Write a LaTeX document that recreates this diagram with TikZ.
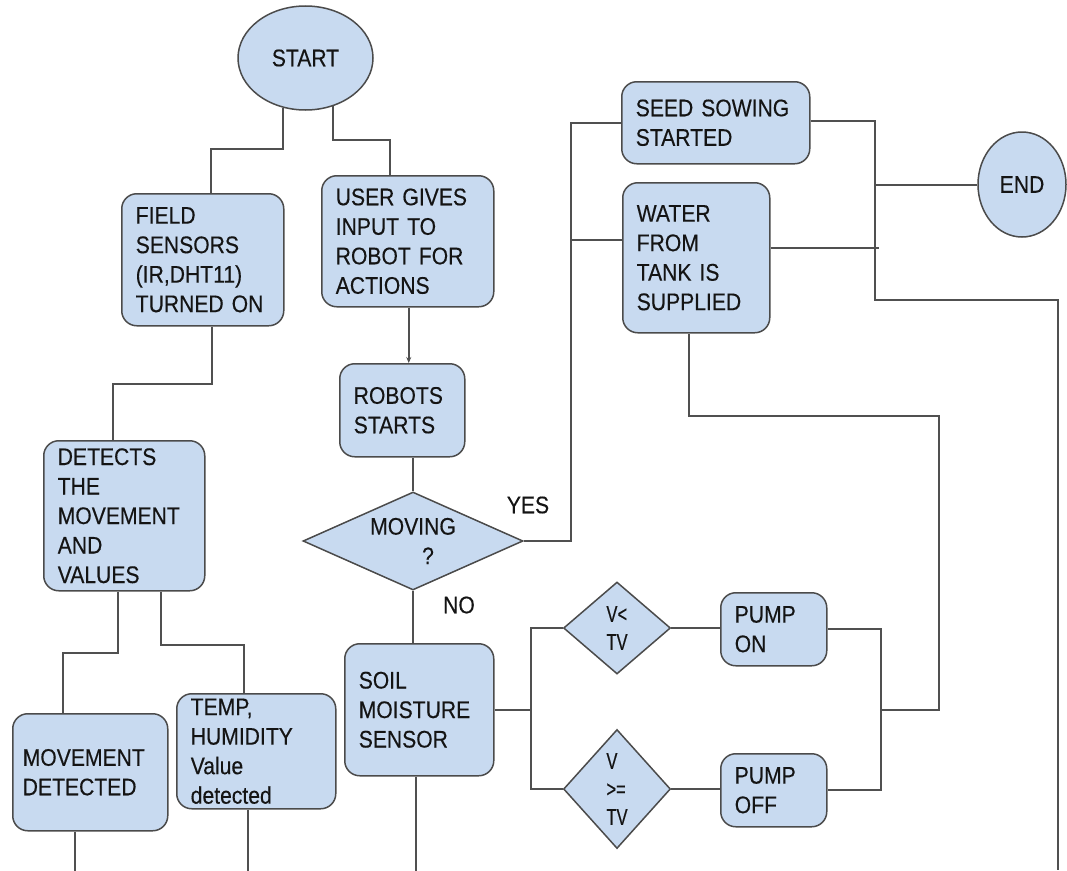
\documentclass[tikz,border=0pt]{standalone}
\usepackage{fontspec}
\setmainfont{Liberation Sans}[FakeStretch=0.88,FakeBold=0.3]
\newfontfamily\condf{Liberation Sans}[FakeStretch=0.72,FakeBold=0.3]
\usetikzlibrary{shapes.geometric,arrows.meta,calc}
\definecolor{boxc}{RGB}{200,218,240}
\definecolor{bordc}{RGB}{75,75,75}
\definecolor{linec}{RGB}{80,80,80}
\definecolor{txtc}{RGB}{20,20,20}
\newcommand{\fmain}{\fontsize{24}{29.5}\selectfont}
\newcommand{\fsmall}{\condf\fontsize{23}{28}\selectfont}
\begin{document}
\begin{tikzpicture}[x=1pt,y=-1pt,
 box/.style={draw=bordc, fill=boxc, rounded corners=15pt, line width=1.5pt, anchor=north west, align=left, inner xsep=14pt, inner ysep=0pt, font=\fmain, text=txtc},
 term/.style={ellipse, draw=bordc, fill=boxc, line width=1.5pt, inner sep=0pt, font=\fmain, text=txtc},
 dia/.style={diamond, draw=bordc, fill=boxc, line width=1.5pt, inner sep=0pt, text=txtc},
 conn/.style={draw=linec, line width=2pt},
 lbl/.style={font=\fmain, text=txtc, inner sep=0pt}]
\fill[white] (0,0) rectangle (1067,870);
\useasboundingbox (0,0) rectangle (1067,870);

% terminals
\node[term, minimum width=135pt, minimum height=104pt] (start) at (305.5,58) {START};
\node[term, minimum width=88pt, minimum height=105pt] (endn) at (1022,184.5) {END};

% boxes
\node[box, text width=134pt, minimum height=132pt] (field) at (121,193) {FIELD\\SENSORS\\(IR,DHT11)\\TURNED ON};
\node[box, text width=144pt, minimum height=131pt] (user) at (321,175) {USER GIVES\\INPUT TO\\ROBOT FOR\\ACTIONS};
\node[box, text width=97pt, minimum height=93pt] (robots) at (339,363) {ROBOTS\\STARTS};
\node[box, text width=133pt, minimum height=150pt] (det) at (43,440) {DETECTS\\THE\\MOVEMENT\\AND\\VALUES};
\node[box, inner xsep=10pt, text width=135pt, minimum height=117pt] (movd) at (12,713) {MOVEMENT\\DETECTED};
\node[box, text width=131pt, minimum height=115pt] (temp) at (176,693) {TEMP,\\HUMIDITY\\Value\\detected};
\node[box, text width=121pt, minimum height=132pt] (soil) at (344,643) {SOIL\\MOISTURE\\SENSOR};
\node[box, text width=160pt, minimum height=82pt] (seed) at (621,81) {SEED SOWING\\STARTED};
\node[box, text width=119pt, minimum height=150pt] (water) at (622,182) {WATER\\FROM\\TANK IS\\SUPPLIED};
\node[box, text width=78pt, minimum height=73pt] (pon) at (720,592) {PUMP\\ON};
\node[box, text width=78pt, minimum height=73pt] (poff) at (720,753) {PUMP\\OFF};

% decisions
\node[dia, aspect=2.2, minimum width=220pt, minimum height=98pt, font=\fmain, align=center] (mov) at (413,541) {MOVING\\\hspace*{30pt}?};
\node[dia, aspect=1.16, minimum width=107pt, minimum height=92pt, font=\fsmall, align=left] (vlt) at (617,628) {V<\\TV};
\node[dia, aspect=0.9, minimum width=107pt, minimum height=119pt, font=\fsmall, align=left] (vge) at (617,789) {V\\>=\\TV};

% labels
\node[lbl] (yes) at (528,505) {YES};
\node[lbl] (no) at (459,605) {NO};

% connectors
\draw[conn] (start.246) -- ++(0,41) -| ([xshift=8pt]field.north);
\draw[conn] (start.300) -- ++(0,34) -| ([xshift=-18pt]user.north);
\draw[conn, -{Stealth[length=6pt,width=5pt]}] ([xshift=1pt]user.south) -- ([xshift=1pt]user.south |- robots.north);
\draw[conn] (robots.south -| mov.north) -- (mov.north);
\draw[conn] ([xshift=9pt]field.south) -- ++(0,57) -| ([xshift=-11.5pt]det.north);
\draw[conn] ([xshift=-6.5pt]det.south) -- ++(0,61) -| ([xshift=-27.5pt]movd.north);
\draw[conn] ([xshift=36.5pt]det.south) -- ++(0,53) -| ([xshift=-12.5pt]temp.north);
\draw[conn] ([xshift=-15.5pt]movd.south) -- ++(0,40);
\draw[conn] ([xshift=-8.5pt]temp.south) -- ++(0,62);
\draw[conn] ([xshift=-3.5pt]soil.south) -- ++(0,95);
\draw[conn] (mov.south) -- (mov.south |- soil.north);

\draw[conn] (mov.east) -- ++(47,0) |- (seed.west);
\draw[conn] ([yshift=18pt]water.west) -- ++(-52,0);

\coordinate (rb) at (1058,870);
\draw[conn] ([yshift=2pt]seed.east) -- ++(64,0) coordinate (j1) -- ++(0,179) coordinate (j2) -| (rb);
\draw[conn] (endn.west) -- (endn.west -| j1);
\draw[conn] ([yshift=10pt]water.east) -- ++(108,0);

\draw[conn] (soil.east) -- ++(36,0) coordinate (sj);
\draw[conn] (vlt.west) -| (sj);
\draw[conn] (vge.west) -| (sj);
\draw[conn] (vlt.east) -- (vlt.east -| pon.west);
\draw[conn] (vge.east) -- (vge.east -| poff.west);

\coordinate (pj) at (881,710);
\draw[conn] (pon.east) -| (pj);
\draw[conn] (poff.east) -| (pj);
\draw[conn] (pj) -- ++(58,0) -- ++(0,-294) -| ([xshift=-7.5pt]water.south);
\end{tikzpicture}
\end{document}
